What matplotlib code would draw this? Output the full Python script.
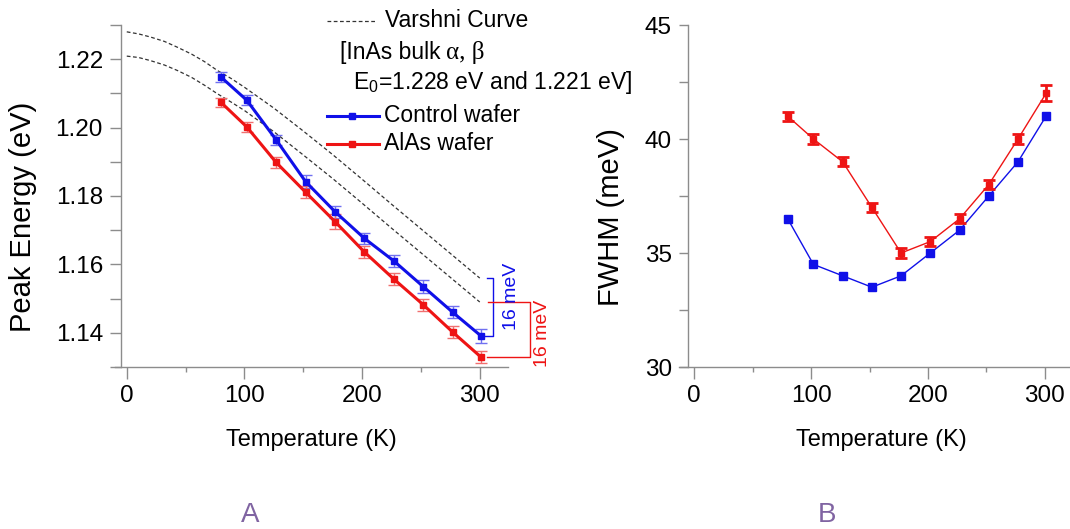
import matplotlib.pyplot as plt
from matplotlib.lines import Line2D
from matplotlib.ticker import MultipleLocator

plt.rcParams['font.family'] = ['Liberation Sans', 'DejaVu Sans']
plt.rcParams['mathtext.fontset'] = 'custom'
plt.rcParams['mathtext.rm'] = 'Liberation Sans'

# temperatures (K)
temp = [80, 102, 127, 152, 177, 202, 227, 252, 277, 301]

# peak energy (eV)
e_control = [1.2148, 1.2080, 1.1964, 1.1842, 1.1754, 1.1676, 1.1610, 1.1535, 1.1460, 1.1391]
e_control_err = [0.0015, 0.0015, 0.0015, 0.0018, 0.0018, 0.0017, 0.0017, 0.0018, 0.0018, 0.0020]
e_alas = [1.2074, 1.2002, 1.1898, 1.1811, 1.1725, 1.1636, 1.1557, 1.1482, 1.1402, 1.1329]
e_alas_err = [0.0014, 0.0015, 0.0016, 0.0018, 0.0022, 0.0018, 0.0018, 0.0018, 0.0018, 0.0018]

# varshni curves
t_varshni = [0, 10, 20, 32, 43, 55, 66, 77, 89, 100, 125, 150, 175, 200, 225, 250, 275, 300]
varshni_hi = [1.2280, 1.2274, 1.2265, 1.2252, 1.2235, 1.2215, 1.2193, 1.2167, 1.2143,
              1.2118, 1.2057, 1.1990, 1.1921, 1.1849, 1.1776, 1.1704, 1.1632, 1.1560]
varshni_lo = [1.2209, 1.2205, 1.2196, 1.2183, 1.2167, 1.2147, 1.2124, 1.2099, 1.2074,
              1.2050, 1.1988, 1.1920, 1.1851, 1.1779, 1.1706, 1.1634, 1.1562, 1.1490]

# FWHM (meV)
fwhm_control = [36.5, 34.5, 34.0, 33.5, 34.0, 35.0, 36.0, 37.5, 39.0, 41.0]
fwhm_alas = [41.0, 40.0, 39.0, 37.0, 35.0, 35.5, 36.5, 38.0, 40.0, 42.0]
fwhm_alas_err = [0.2, 0.2, 0.2, 0.2, 0.2, 0.2, 0.2, 0.2, 0.2, 0.35]

blue = '#1010e8'
red = '#ee1414'
gray = '#8c8c8c'
W, H = 1070, 529


def fp(x, y):
    # pixel (from top-left) -> figure fraction
    return x / W, 1 - y / H


def style(ax, spine_x, ylen):
    ax.spines['top'].set_visible(False)
    ax.spines['right'].set_visible(False)
    ax.spines['left'].set_position(('data', spine_x))
    for s in ['left', 'bottom']:
        ax.spines[s].set_color(gray)
        ax.spines[s].set_linewidth(1.0)
    ax.tick_params(which='both', color=gray, width=1.0, labelsize=17.5)
    ax.tick_params(axis='x', which='major', length=8.6, pad=4)
    ax.tick_params(axis='x', which='minor', length=3.6)
    ax.tick_params(axis='y', which='both', length=ylen, pad=5)
    ax.xaxis.set_major_locator(MultipleLocator(100))
    ax.xaxis.set_minor_locator(MultipleLocator(50))


fig = plt.figure(figsize=(W / 100, H / 100), dpi=100)

# ---- panel A
ax1 = fig.add_axes([115 / W, (H - 367) / H, 393 / W, 342 / H])
ax1.set_xlim(-10, 324)
ax1.set_ylim(1.13, 1.23)
style(ax1, -5, 7.9)
ax1.yaxis.set_major_locator(MultipleLocator(0.02))
ax1.yaxis.set_minor_locator(MultipleLocator(0.01))
ax1.set_xticks([0, 100, 200, 300])

ax1.plot(t_varshni, varshni_hi, color='#333333', lw=0.9, ls=(0, (3, 2)))
ax1.plot(t_varshni, varshni_lo, color='#333333', lw=0.9, ls=(0, (3, 2)))
ax1.errorbar(temp, e_control, yerr=e_control_err, fmt='s-', color=blue, lw=2.2, ms=5,
             ecolor='#7070f0', elinewidth=1.0, capsize=4.3, capthick=1.0)
ax1.errorbar(temp, e_alas, yerr=e_alas_err, fmt='s-', color=red, lw=2.2, ms=5,
             ecolor='#f07070', elinewidth=1.0, capsize=4.3, capthick=1.0)

# 16 meV brackets
ax1.plot([306, 311, 311, 303], [varshni_hi[-1], varshni_hi[-1], e_control[-1], e_control[-1]],
         color=blue, lw=1.0, clip_on=False)
ax1.plot([307, 343, 343, 306], [varshni_lo[-1], varshni_lo[-1], e_alas[-1], e_alas[-1]],
         color=red, lw=1.0, clip_on=False)
ax1.text(327, 1.1506, '16 meV', color=blue, fontsize=14, rotation=90,
         ha='center', va='center', clip_on=False)
ax1.text(353.7, 1.1397, '16 meV', color=red, fontsize=14, rotation=90,
         ha='center', va='center', clip_on=False)

ax1.set_xlabel('Temperature (K)', fontsize=17)
ax1.xaxis.label.set_va('center')
ax1.xaxis.set_label_coords(0.5, (367 - 440) / 342)
ax1.set_ylabel('Peak Energy (eV)', fontsize=21)
ax1.yaxis.label.set_va('center')
ax1.yaxis.set_label_coords((23.3 - 115) / 393, (367 - 216.7) / 342)

# legend drawn by hand
fig.add_artist(Line2D(*zip(fp(327, 20.7), fp(377, 20.7)), transform=fig.transFigure,
                      color='#333333', lw=0.9, ls=(0, (3, 2))))
fig.text(*fp(385, 20.7), 'Varshni Curve', fontsize=16.5, va='center')
fig.text(*fp(340, 53), '[InAs bulk', fontsize=16.5, va='center')
fig.text(*fp(446, 53), 'α, β', fontsize=18, va='center', family='Liberation Serif')
fig.text(*fp(353, 82), 'E$_0$=1.228 eV and 1.221 eV]', fontsize=16.5, va='center')
for yy, col, lab in [(116, blue, 'Control wafer'), (144, red, 'AlAs wafer')]:
    fig.add_artist(Line2D(*zip(fp(327, yy), fp(379, yy)), transform=fig.transFigure,
                          color=col, lw=2.2))
    fig.add_artist(Line2D(*zip(fp(352, yy)), transform=fig.transFigure,
                          color=col, marker='s', ms=4.5))
    fig.text(*fp(384, yy), lab, fontsize=16.5, va='center')

# ---- panel B
ax2 = fig.add_axes([679 / W, (H - 367) / H, 391 / W, 342 / H])
ax2.set_xlim(-13, 321.5)
ax2.set_ylim(30, 45)
style(ax2, -5.5, 6.5)
ax2.yaxis.set_major_locator(MultipleLocator(5))
ax2.yaxis.set_minor_locator(MultipleLocator(2.5))
ax2.set_xticks([0, 100, 200, 300])

ax2.plot(temp, fwhm_control, 's-', color=blue, lw=1.0, ms=5.5)
ax2.errorbar(temp, fwhm_alas, yerr=fwhm_alas_err, fmt='s-', color=red, lw=1.0, ms=4,
             elinewidth=2.0, capsize=4.5, capthick=2.0)

ax2.set_xlabel('Temperature (K)', fontsize=17)
ax2.xaxis.label.set_va('center')
ax2.xaxis.set_label_coords((881.7 - 679) / 391, (367 - 440) / 342)
ax2.set_ylabel('FWHM (meV)', fontsize=21)
ax2.yaxis.label.set_va('center')
ax2.yaxis.set_label_coords((611 - 679) / 391, (367 - 216.7) / 342)

fig.text(*fp(250.5, 515), 'A', fontsize=20, color='#8064a2', ha='center', va='center')
fig.text(*fp(826.7, 515), 'B', fontsize=20, color='#8064a2', ha='center', va='center')

fig.savefig('out.png', dpi=100)
